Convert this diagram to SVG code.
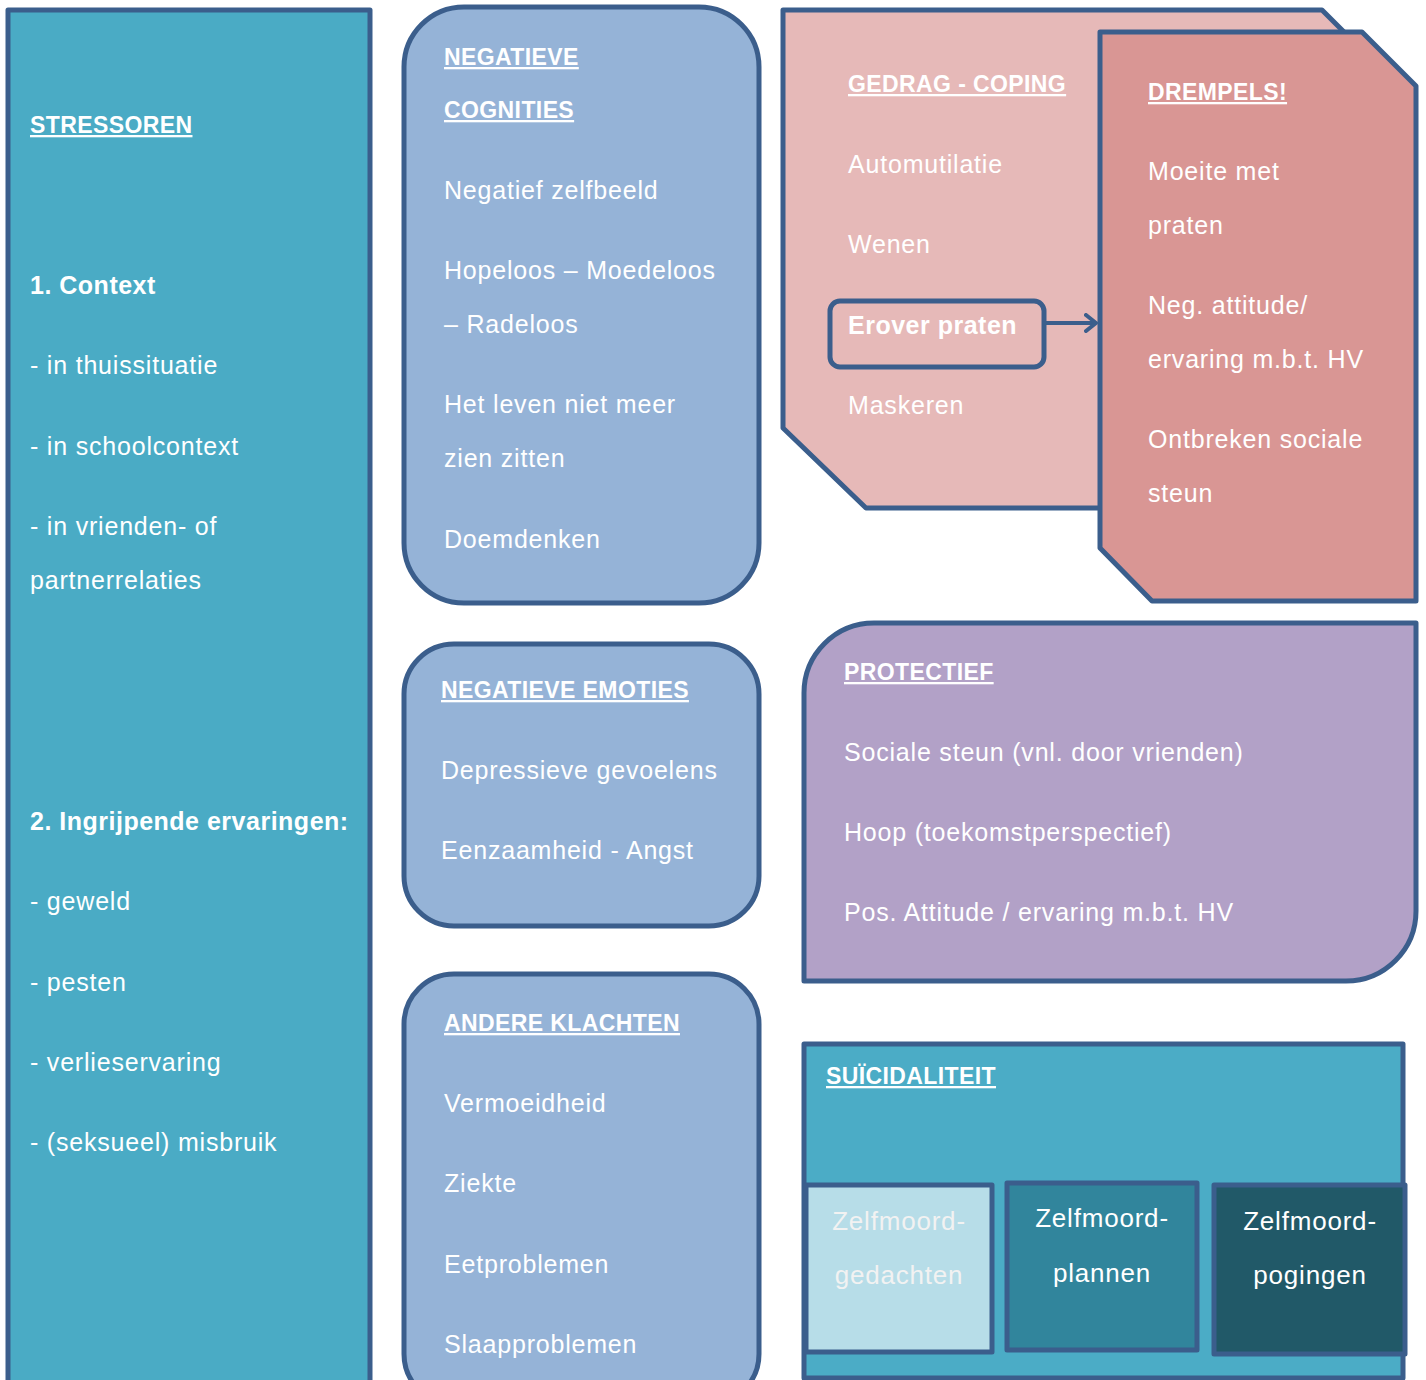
<svg xmlns="http://www.w3.org/2000/svg" width="1426" height="1380" viewBox="0 0 1426 1380">
<defs>
<style>
.box{stroke:#3b5e8c;stroke-width:5;stroke-linejoin:round}
text{font-family:"Liberation Sans",Arial,sans-serif;fill:#ffffff;font-size:25px;letter-spacing:0.8px}
.h{font-weight:bold;font-size:23px;letter-spacing:0.4px;text-decoration:underline}
.b{font-weight:bold;letter-spacing:0.5px}
.s{font-size:26px}
</style>
<marker id="arr" viewBox="0 0 14 20" refX="12" refY="10" markerWidth="14" markerHeight="20" markerUnits="userSpaceOnUse" orient="auto">
<path d="M2 2 L12 10 L2 18" fill="none" stroke="#3b5e8c" stroke-width="4" stroke-linecap="round" stroke-linejoin="round"/>
</marker>
</defs>
<rect width="1426" height="1380" fill="#ffffff"/>

<g id="stressoren">
<rect class="box" x="8" y="10" width="362" height="1400" fill="#4aabc5"/>
<text class="h" x="30" y="133">STRESSOREN</text>
<text class="b" x="30" y="294">1. Context</text>
<text x="30" y="374">- in thuissituatie</text>
<text x="30" y="455">- in schoolcontext</text>
<text x="30" y="535">- in vrienden- of</text>
<text x="30" y="589">partnerrelaties</text>
<text class="b" x="30" y="830">2. Ingrijpende ervaringen:</text>
<text x="30" y="910">- geweld</text>
<text x="30" y="991">- pesten</text>
<text x="30" y="1071">- verlieservaring</text>
<text x="30" y="1151">- (seksueel) misbruik</text>
</g>

<g id="negatieve-cognities">
<rect class="box" x="404" y="7" width="355" height="596" rx="60" fill="#95b3d7"/>
<text class="h" x="444" y="65">NEGATIEVE</text>
<text class="h" x="444" y="118">COGNITIES</text>
<text x="444" y="199">Negatief zelfbeeld</text>
<text x="444" y="279">Hopeloos – Moedeloos</text>
<text x="444" y="333">– Radeloos</text>
<text x="444" y="413">Het leven niet meer</text>
<text x="444" y="467">zien zitten</text>
<text x="444" y="548">Doemdenken</text>
</g>

<g id="negatieve-emoties">
<rect class="box" x="404" y="644" width="355" height="282" rx="50" fill="#95b3d7"/>
<text class="h" x="441" y="698">NEGATIEVE EMOTIES</text>
<text x="441" y="779">Depressieve gevoelens</text>
<text x="441" y="859">Eenzaamheid - Angst</text>
</g>

<g id="andere-klachten">
<rect class="box" x="404" y="974" width="355" height="430" rx="50" fill="#95b3d7"/>
<text class="h" x="444" y="1031">ANDERE KLACHTEN</text>
<text x="444" y="1112">Vermoeidheid</text>
<text x="444" y="1192">Ziekte</text>
<text x="444" y="1273">Eetproblemen</text>
<text x="444" y="1353">Slaapproblemen</text>
</g>

<g id="gedrag-coping">
<path class="box" d="M783 10 H1322 L1345 33 L1345 508 H866 L783 428 Z" fill="#e6b9b8"/>
<text class="h" x="848" y="92">GEDRAG - COPING</text>
<text x="848" y="173">Automutilatie</text>
<text x="848" y="253">Wenen</text>
<text x="848" y="414">Maskeren</text>
</g>

<g id="drempels">
<path class="box" d="M1100 32 H1362 L1416 86 V601 H1152 L1100 548 Z" fill="#d99694"/>
<text class="h" x="1148" y="100">DREMPELS!</text>
<text x="1148" y="180">Moeite met</text>
<text x="1148" y="234">praten</text>
<text x="1148" y="314">Neg. attitude/</text>
<text x="1148" y="368">ervaring m.b.t. HV</text>
<text x="1148" y="448">Ontbreken sociale</text>
<text x="1148" y="502">steun</text>
</g>

<g id="erover-praten">
<rect class="box" x="830" y="301" width="214" height="66" rx="10" fill="#e6b9b8"/>
<text class="b" x="848" y="334">Erover praten</text>
</g>

<g id="protectief">
<path class="box" d="M874 623 H1416 V911 A70 70 0 0 1 1346 981 H804 V693 A70 70 0 0 1 874 623 Z" fill="#b2a1c7"/>
<text class="h" x="844" y="680">PROTECTIEF</text>
<text x="844" y="761">Sociale steun (vnl. door vrienden)</text>
<text x="844" y="841">Hoop (toekomstperspectief)</text>
<text x="844" y="921">Pos. Attitude / ervaring m.b.t. HV</text>
</g>

<g id="suicidaliteit">
<rect class="box" x="804" y="1044" width="599" height="334" fill="#4bacc6"/>
<text class="h" x="826" y="1084">SUÏCIDALITEIT</text>
</g>

<g id="zelfmoordgedachten">
<rect class="box" x="806" y="1185" width="186" height="167" fill="#b7dde8"/>
<text class="s" x="899" y="1230" text-anchor="middle" style="fill:#f2f2f2">Zelfmoord-</text>
<text class="s" x="899" y="1284" text-anchor="middle" style="fill:#f2f2f2">gedachten</text>
</g>

<g id="zelfmoordplannen">
<rect class="box" x="1007" y="1183" width="190" height="167" fill="#31859c"/>
<text class="s" x="1102" y="1227" text-anchor="middle">Zelfmoord-</text>
<text class="s" x="1102" y="1282" text-anchor="middle">plannen</text>
</g>

<g id="zelfmoordpogingen">
<rect class="box" x="1214" y="1185" width="191" height="169" fill="#215968"/>
<text class="s" x="1310" y="1230" text-anchor="middle">Zelfmoord-</text>
<text class="s" x="1310" y="1284" text-anchor="middle">pogingen</text>
</g>

<g id="connectors">
<line x1="1044" y1="323" x2="1096" y2="323" stroke="#3b5e8c" stroke-width="4" marker-end="url(#arr)"/>
</g>
</svg>
